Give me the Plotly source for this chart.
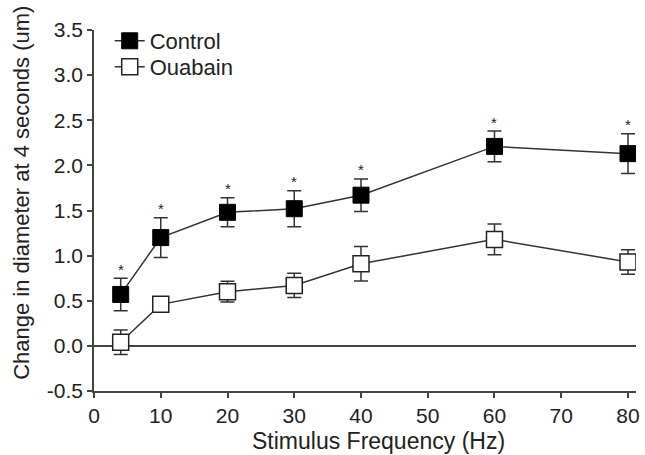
import plotly.graph_objects as go

# Stimulus frequencies (Hz)
freq = [4, 10, 20, 30, 40, 60, 80]

# Mean change in diameter (um) and SEM
control = [0.57, 1.20, 1.48, 1.52, 1.67, 2.21, 2.13]
control_err = [0.18, 0.22, 0.16, 0.20, 0.18, 0.17, 0.22]
ouabain = [0.04, 0.46, 0.60, 0.67, 0.91, 1.18, 0.93]
ouabain_err = [0.135, 0.05, 0.115, 0.135, 0.19, 0.17, 0.135]

# Significance markers on control points
sig = ["*", "*", "*", "*", "*", "*", "*"]

FONT = "Liberation Sans, Arial, sans-serif"
INK = "#222222"
AXIS = "#444444"

fig = go.Figure()
fig.add_trace(go.Scatter(
    x=freq, y=control, name="Control", mode="lines+markers", legend="legend",
    line=dict(color="#333333", width=1.5),
    marker=dict(symbol="square", size=16, color="black", line=dict(color="black", width=1)),
    error_y=dict(type="data", array=control_err, color="#333333", thickness=1.5, width=7),
))
fig.add_trace(go.Scatter(
    x=freq, y=ouabain, name="Ouabain", mode="lines+markers", legend="legend2",
    line=dict(color="#333333", width=1.5),
    marker=dict(symbol="square", size=16, color="white", line=dict(color="#222222", width=1.5)),
    error_y=dict(type="data", array=ouabain_err, color="#333333", thickness=1.5, width=7),
))

for x, y, e, s in zip(freq, control, control_err, sig):
    fig.add_annotation(x=x, y=y + e, text=s, showarrow=False, yshift=9,
                       font=dict(family=FONT, size=15, color=INK))

# Axis titles
fig.add_annotation(text="Stimulus Frequency (Hz)", xref="paper", yref="paper",
                   x=0.524, y=-0.1385, xanchor="center", yanchor="middle", showarrow=False,
                   font=dict(family=FONT, size=23, color=INK))
fig.add_annotation(text="Change in diameter at 4 seconds (um)", xref="paper", yref="paper",
                   x=-0.134, y=0.55, xanchor="center", yanchor="middle", textangle=-90,
                   showarrow=False, font=dict(family=FONT, size=22, color=INK))

legend_style = dict(xanchor="left", yanchor="middle", bgcolor="rgba(0,0,0,0)",
                    font=dict(family=FONT, size=22, color=INK), itemwidth=30)

fig.update_layout(
    width=645, height=455,
    margin=dict(l=94, r=5, t=30, b=64),
    plot_bgcolor="white", paper_bgcolor="white",
    font=dict(family=FONT, color=INK),
    showlegend=True,
    legend=dict(x=0.029, y=0.9695, **legend_style),
    legend2=dict(x=0.029, y=0.8975, **legend_style),
)
fig.update_xaxes(
    range=[0, 81.2], tickvals=[0, 10, 20, 30, 40, 50, 60, 70, 80],
    showgrid=False, zeroline=False, showline=True, linecolor=AXIS, linewidth=1.5,
    ticks="outside", ticklen=5, tickcolor=AXIS, tickwidth=1.5,
    tickfont=dict(family=FONT, size=21, color=INK),
)
fig.update_yaxes(
    range=[-0.5, 3.5], tickvals=[-0.5, 0, 0.5, 1, 1.5, 2, 2.5, 3, 3.5],
    ticktext=["-0.5", "0.0", "0.5", "1.0", "1.5", "2.0", "2.5", "3.0", "3.5"],
    showgrid=False, zeroline=True, zerolinecolor=AXIS, zerolinewidth=1.5,
    showline=True, linecolor=AXIS, linewidth=1.5,
    ticks="outside", ticklen=5, tickcolor=AXIS, tickwidth=1.5,
    tickfont=dict(family=FONT, size=21, color=INK),
)

fig.write_html("out.html")
